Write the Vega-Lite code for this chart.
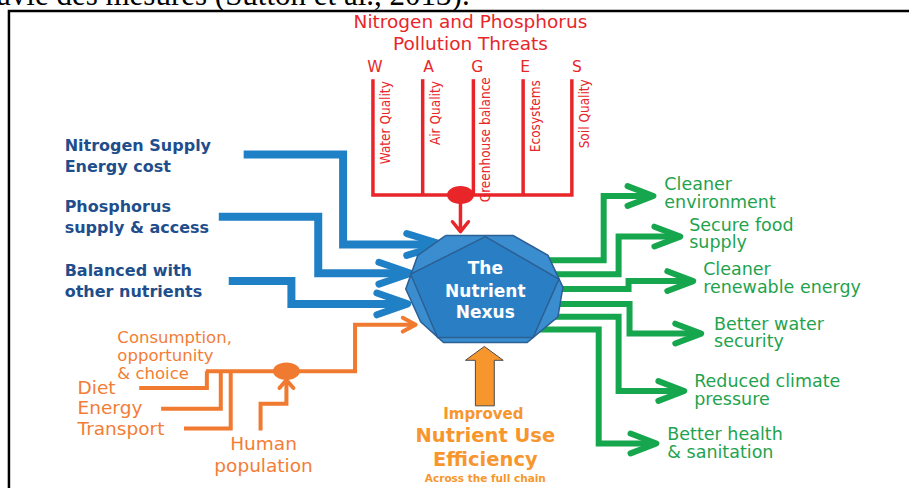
{
"$schema": "https://vega.github.io/schema/vega-lite/v6.json",
"width": 914, "height": 493, "padding": 0,
"autosize": {"type": "fit", "contains": "padding"},
"background": "white",
"config": {"view": {"stroke": null}},
"datasets": {
"paths": [
{"p":"f1","g":"frame","o":1,"x":9,"y":493},{"p":"f1","g":"frame","o":2,"x":9,"y":11},{"p":"f1","g":"frame","o":3,"x":914,"y":11},
{"p":"r1","g":"red","o":1,"x":375,"y":80},{"p":"r1","g":"red","o":2,"x":375,"y":197},{"p":"r1","g":"red","o":3,"x":575,"y":197},{"p":"r1","g":"red","o":4,"x":575,"y":80},
{"p":"r2","g":"red","o":1,"x":425,"y":80},{"p":"r2","g":"red","o":2,"x":425,"y":197},
{"p":"r3","g":"red","o":1,"x":476,"y":80},{"p":"r3","g":"red","o":2,"x":476,"y":197},
{"p":"r4","g":"red","o":1,"x":526,"y":80},{"p":"r4","g":"red","o":2,"x":526,"y":197},
{"p":"r5","g":"red","o":1,"x":463,"y":197},{"p":"r5","g":"red","o":2,"x":463,"y":231},
{"p":"rh","g":"redhead","o":1,"x":455,"y":224},{"p":"rh","g":"redhead","o":2,"x":463,"y":234},{"p":"rh","g":"redhead","o":3,"x":471,"y":224},
{"p":"b1","g":"blue","o":1,"x":245,"y":156},{"p":"b1","g":"blue","o":2,"x":345,"y":156},{"p":"b1","g":"blue","o":3,"x":345,"y":247},{"p":"b1","g":"blue","o":4,"x":441,"y":247},
{"p":"b2","g":"blue","o":1,"x":220,"y":219},{"p":"b2","g":"blue","o":2,"x":320,"y":219},{"p":"b2","g":"blue","o":3,"x":320,"y":276},{"p":"b2","g":"blue","o":4,"x":409,"y":276},
{"p":"b3","g":"blue","o":1,"x":230,"y":284},{"p":"b3","g":"blue","o":2,"x":293,"y":284},{"p":"b3","g":"blue","o":3,"x":293,"y":307},{"p":"b3","g":"blue","o":4,"x":406,"y":307},
{"p":"bh1","g":"bluehead","o":1,"x":409,"y":236},{"p":"bh1","g":"bluehead","o":2,"x":445,"y":247},{"p":"bh1","g":"bluehead","o":3,"x":409,"y":258},
{"p":"bh2","g":"bluehead","o":1,"x":381,"y":265},{"p":"bh2","g":"bluehead","o":2,"x":413,"y":276},{"p":"bh2","g":"bluehead","o":3,"x":381,"y":287},
{"p":"bh3","g":"bluehead","o":1,"x":379,"y":296},{"p":"bh3","g":"bluehead","o":2,"x":410,"y":307},{"p":"bh3","g":"bluehead","o":3,"x":379,"y":318},
{"p":"g1","g":"green","o":1,"x":540,"y":263},{"p":"g1","g":"green","o":2,"x":607,"y":263},{"p":"g1","g":"green","o":3,"x":607,"y":198},{"p":"g1","g":"green","o":4,"x":654,"y":198},
{"p":"g2","g":"green","o":1,"x":540,"y":277},{"p":"g2","g":"green","o":2,"x":622,"y":277},{"p":"g2","g":"green","o":3,"x":622,"y":239},{"p":"g2","g":"green","o":4,"x":681,"y":239},
{"p":"g3","g":"green","o":1,"x":540,"y":292},{"p":"g3","g":"green","o":2,"x":632,"y":292},{"p":"g3","g":"green","o":3,"x":632,"y":284},{"p":"g3","g":"green","o":4,"x":694,"y":284},
{"p":"g4","g":"green","o":1,"x":540,"y":307},{"p":"g4","g":"green","o":2,"x":633,"y":307},{"p":"g4","g":"green","o":3,"x":633,"y":337},{"p":"g4","g":"green","o":4,"x":702,"y":337},
{"p":"g5","g":"green","o":1,"x":540,"y":320},{"p":"g5","g":"green","o":2,"x":622,"y":320},{"p":"g5","g":"green","o":3,"x":622,"y":395},{"p":"g5","g":"green","o":4,"x":685,"y":395},
{"p":"g6","g":"green","o":1,"x":540,"y":333},{"p":"g6","g":"green","o":2,"x":602,"y":333},{"p":"g6","g":"green","o":3,"x":602,"y":448},{"p":"g6","g":"green","o":4,"x":657,"y":448},
{"p":"gh1","g":"greenhead","o":1,"x":631,"y":188},{"p":"gh1","g":"greenhead","o":2,"x":657,"y":198},{"p":"gh1","g":"greenhead","o":3,"x":631,"y":208},
{"p":"gh2","g":"greenhead","o":1,"x":658,"y":229},{"p":"gh2","g":"greenhead","o":2,"x":684,"y":239},{"p":"gh2","g":"greenhead","o":3,"x":658,"y":249},
{"p":"gh3","g":"greenhead","o":1,"x":671,"y":274},{"p":"gh3","g":"greenhead","o":2,"x":697,"y":284},{"p":"gh3","g":"greenhead","o":3,"x":671,"y":294},
{"p":"gh4","g":"greenhead","o":1,"x":679,"y":327},{"p":"gh4","g":"greenhead","o":2,"x":705,"y":337},{"p":"gh4","g":"greenhead","o":3,"x":679,"y":347},
{"p":"gh5","g":"greenhead","o":1,"x":662,"y":385},{"p":"gh5","g":"greenhead","o":2,"x":688,"y":395},{"p":"gh5","g":"greenhead","o":3,"x":662,"y":405},
{"p":"gh6","g":"greenhead","o":1,"x":634,"y":438},{"p":"gh6","g":"greenhead","o":2,"x":660,"y":448},{"p":"gh6","g":"greenhead","o":3,"x":634,"y":458},
{"p":"o1","g":"orange","o":1,"x":207,"y":375},{"p":"o1","g":"orange","o":2,"x":357,"y":375},{"p":"o1","g":"orange","o":3,"x":357,"y":328},{"p":"o1","g":"orange","o":4,"x":416,"y":328},
{"p":"o2","g":"orange","o":1,"x":140,"y":392},{"p":"o2","g":"orange","o":2,"x":208,"y":392},{"p":"o2","g":"orange","o":3,"x":208,"y":375},
{"p":"o3","g":"orange","o":1,"x":162,"y":413},{"p":"o3","g":"orange","o":2,"x":222,"y":413},{"p":"o3","g":"orange","o":3,"x":222,"y":375},
{"p":"o4","g":"orange","o":1,"x":185,"y":433},{"p":"o4","g":"orange","o":2,"x":232,"y":433},{"p":"o4","g":"orange","o":3,"x":232,"y":375},
{"p":"o5","g":"orange","o":1,"x":262,"y":435},{"p":"o5","g":"orange","o":2,"x":262,"y":408},{"p":"o5","g":"orange","o":3,"x":288,"y":408},{"p":"o5","g":"orange","o":4,"x":288,"y":386},
{"p":"oh1","g":"orangehead","o":1,"x":405,"y":321},{"p":"oh1","g":"orangehead","o":2,"x":418,"y":328},{"p":"oh1","g":"orangehead","o":3,"x":405,"y":335},
{"p":"oh2","g":"orangehead","o":1,"x":281,"y":392},{"p":"oh2","g":"orangehead","o":2,"x":288,"y":384},{"p":"oh2","g":"orangehead","o":3,"x":295,"y":392}
],
"polys": [
{"p":"dec","o":1,"x":448,"y":238},{"p":"dec","o":2,"x":516,"y":238},{"p":"dec","o":3,"x":551,"y":258},{"p":"dec","o":4,"x":566,"y":290},{"p":"dec","o":5,"x":561,"y":320},{"p":"dec","o":6,"x":530,"y":346},{"p":"dec","o":7,"x":446,"y":346},{"p":"dec","o":8,"x":423,"y":325},{"p":"dec","o":9,"x":408,"y":292},{"p":"dec","o":10,"x":420,"y":258},{"p":"dec","o":11,"x":448,"y":238},
{"p":"pen","o":1,"x":488,"y":239},{"p":"pen","o":2,"x":562,"y":282},{"p":"pen","o":3,"x":536,"y":341},{"p":"pen","o":4,"x":440,"y":341},{"p":"pen","o":5,"x":413,"y":277},{"p":"pen","o":6,"x":488,"y":239},
{"p":"blk","o":1,"x":487,"y":350},{"p":"blk","o":2,"x":506,"y":364},{"p":"blk","o":3,"x":497,"y":364},{"p":"blk","o":4,"x":497,"y":410},{"p":"blk","o":5,"x":478,"y":410},{"p":"blk","o":6,"x":478,"y":364},{"p":"blk","o":7,"x":468,"y":364},{"p":"blk","o":8,"x":487,"y":350}
],
"dots": [
{"g":"red","x":463,"y":197},
{"g":"orange","x":288,"y":375}
],
"texts": [
{"s":"cut","x":-3,"y":5,"t":"avie des mesures (Sutton et al., 2013)."},
{"s":"title","x":473,"y":28,"t":"Nitrogen and Phosphorus"},
{"s":"title","x":473,"y":51,"t":"Pollution Threats"},
{"s":"wages","x":377,"y":73,"t":"W"},
{"s":"wages","x":431,"y":73,"t":"A"},
{"s":"wages","x":480,"y":73,"t":"G"},
{"s":"wages","x":528,"y":73,"t":"E"},
{"s":"wages","x":580,"y":73,"t":"S"},
{"s":"rot","x":381,"y":82,"t":"Water Quality"},
{"s":"rot","x":431,"y":82,"t":"Air Quality"},
{"s":"rot","x":482,"y":78,"t":"Greenhouse balance"},
{"s":"rot","x":532,"y":81,"t":"Ecosystems"},
{"s":"rot","x":581,"y":80,"t":"Soil Quality"},
{"s":"blue","x":65,"y":153,"t":"Nitrogen Supply"},
{"s":"blue","x":65,"y":174,"t":"Energy cost"},
{"s":"blue","x":65,"y":214,"t":"Phosphorus"},
{"s":"blue","x":65,"y":235,"t":"supply & access"},
{"s":"blue","x":65,"y":279,"t":"Balanced with"},
{"s":"blue","x":65,"y":300,"t":"other nutrients"},
{"s":"green","x":668,"y":192,"t":"Cleaner"},
{"s":"green","x":668,"y":210,"t":"environment"},
{"s":"green","x":693,"y":233,"t":"Secure food"},
{"s":"green","x":693,"y":251,"t":"supply"},
{"s":"green","x":707,"y":278,"t":"Cleaner"},
{"s":"green","x":707,"y":296,"t":"renewable energy"},
{"s":"green","x":718,"y":333,"t":"Better water"},
{"s":"green","x":718,"y":351,"t":"security"},
{"s":"green","x":698,"y":391,"t":"Reduced climate"},
{"s":"green","x":698,"y":409,"t":"pressure"},
{"s":"green","x":671,"y":445,"t":"Better health"},
{"s":"green","x":671,"y":463,"t":"& sanitation"},
{"s":"orS","x":118,"y":347,"t":"Consumption,"},
{"s":"orS","x":118,"y":365,"t":"opportunity"},
{"s":"orS","x":118,"y":383,"t":"& choice"},
{"s":"orL","x":78,"y":398,"t":"Diet"},
{"s":"orL","x":78,"y":418,"t":"Energy"},
{"s":"orL","x":78,"y":439,"t":"Transport"},
{"s":"orC","x":265,"y":455,"t":"Human"},
{"s":"orC","x":265,"y":477,"t":"population"},
{"s":"nexus","x":488,"y":277,"t":"The"},
{"s":"nexus","x":488,"y":300,"t":"Nutrient"},
{"s":"nexus","x":488,"y":321,"t":"Nexus"},
{"s":"nue1","x":486,"y":423,"t":"Improved"},
{"s":"nue2","x":488,"y":447,"t":"Nutrient Use"},
{"s":"nue2","x":488,"y":471,"t":"Efficiency"},
{"s":"nue3","x":488,"y":487,"t":"Across the full chain"}
]
},
"encoding": {
"x": {"field": "x", "type": "quantitative", "scale": {"domain": [0, 914], "nice": false, "zero": false}, "axis": null},
"y": {"field": "y", "type": "quantitative", "scale": {"domain": [0, 493], "nice": false, "zero": false, "reverse": true}, "axis": null}
},
"layer": [
{"data": {"name": "texts"}, "transform": [{"filter": "datum.s === 'cut'"}], "mark": {"type": "text", "clip": true, "font": "Liberation Serif", "fontSize": 31, "color": "#000000", "align": "left", "baseline": "alphabetic"}, "encoding": {"text": {"field": "t"}}},
{"data": {"name": "paths"}, "transform": [{"filter": "datum.g === 'frame'"}], "mark": {"type": "line", "stroke": "#000000", "strokeWidth": 2.5, "strokeJoin": "miter"}, "encoding": {"detail": {"field": "p"}, "order": {"field": "o", "type": "quantitative"}}},
{"data": {"name": "paths"}, "transform": [{"filter": "datum.g === 'red'"}], "mark": {"type": "line", "stroke": "#e8262a", "strokeWidth": 3.5, "strokeJoin": "miter", "strokeCap": "butt"}, "encoding": {"detail": {"field": "p"}, "order": {"field": "o", "type": "quantitative"}}},
{"data": {"name": "paths"}, "transform": [{"filter": "datum.g === 'redhead'"}], "mark": {"type": "line", "stroke": "#e8262a", "strokeWidth": 3.5, "strokeJoin": "round", "strokeCap": "round"}, "encoding": {"detail": {"field": "p"}, "order": {"field": "o", "type": "quantitative"}}},
{"data": {"name": "dots"}, "transform": [{"filter": "datum.g === 'red'"}], "mark": {"type": "point", "filled": true, "opacity": 1, "color": "#e8262a", "size": 729, "shape": "M -1 0 A 1 0.67 0 1 1 1 0 A 1 0.67 0 1 1 -1 0 Z"}},
{"data": {"name": "paths"}, "transform": [{"filter": "datum.g === 'blue'"}], "mark": {"type": "line", "stroke": "#2080c6", "strokeWidth": 8, "strokeJoin": "miter", "strokeCap": "butt"}, "encoding": {"detail": {"field": "p"}, "order": {"field": "o", "type": "quantitative"}}},
{"data": {"name": "paths"}, "transform": [{"filter": "datum.g === 'bluehead'"}], "mark": {"type": "line", "stroke": "#2080c6", "strokeWidth": 7, "strokeJoin": "round", "strokeCap": "round"}, "encoding": {"detail": {"field": "p"}, "order": {"field": "o", "type": "quantitative"}}},
{"data": {"name": "paths"}, "transform": [{"filter": "datum.g === 'green'"}], "mark": {"type": "line", "stroke": "#16a64d", "strokeWidth": 6, "strokeJoin": "miter", "strokeCap": "butt"}, "encoding": {"detail": {"field": "p"}, "order": {"field": "o", "type": "quantitative"}}},
{"data": {"name": "paths"}, "transform": [{"filter": "datum.g === 'greenhead'"}], "mark": {"type": "line", "stroke": "#16a64d", "strokeWidth": 6, "strokeJoin": "round", "strokeCap": "round"}, "encoding": {"detail": {"field": "p"}, "order": {"field": "o", "type": "quantitative"}}},
{"data": {"name": "paths"}, "transform": [{"filter": "datum.g === 'orange'"}], "mark": {"type": "line", "stroke": "#f07a30", "strokeWidth": 4, "strokeJoin": "miter", "strokeCap": "butt"}, "encoding": {"detail": {"field": "p"}, "order": {"field": "o", "type": "quantitative"}}},
{"data": {"name": "paths"}, "transform": [{"filter": "datum.g === 'orangehead'"}], "mark": {"type": "line", "stroke": "#f07a30", "strokeWidth": 4, "strokeJoin": "round", "strokeCap": "round"}, "encoding": {"detail": {"field": "p"}, "order": {"field": "o", "type": "quantitative"}}},
{"data": {"name": "dots"}, "transform": [{"filter": "datum.g === 'orange'"}], "mark": {"type": "point", "filled": true, "opacity": 1, "color": "#f07a30", "size": 729, "shape": "M -1 0 A 1 0.64 0 1 1 1 0 A 1 0.64 0 1 1 -1 0 Z"}},
{"data": {"name": "polys"}, "transform": [{"filter": "datum.p === 'dec'"}], "mark": {"type": "line", "fill": "#3a8dcf", "stroke": "#2c5f93", "strokeWidth": 1.5, "strokeJoin": "miter"}, "encoding": {"order": {"field": "o", "type": "quantitative"}}},
{"data": {"name": "polys"}, "transform": [{"filter": "datum.p === 'pen'"}], "mark": {"type": "line", "fill": "#2a7fc4", "stroke": "#2c5f93", "strokeWidth": 1.5, "strokeJoin": "miter"}, "encoding": {"order": {"field": "o", "type": "quantitative"}}},
{"data": {"name": "polys"}, "transform": [{"filter": "datum.p === 'blk'"}], "mark": {"type": "line", "fill": "#f7962d", "stroke": "#4a4a4a", "strokeWidth": 1, "strokeJoin": "miter"}, "encoding": {"order": {"field": "o", "type": "quantitative"}}},
{"data": {"name": "texts"}, "transform": [{"filter": "datum.s === 'title'"}], "mark": {"type": "text", "font": "DejaVu Sans", "fontSize": 18.5, "color": "#e8262a", "align": "center", "baseline": "alphabetic"}, "encoding": {"text": {"field": "t"}}},
{"data": {"name": "texts"}, "transform": [{"filter": "datum.s === 'wages'"}], "mark": {"type": "text", "font": "DejaVu Sans", "fontSize": 15.5, "color": "#e8262a", "align": "center", "baseline": "alphabetic"}, "encoding": {"text": {"field": "t"}}},
{"data": {"name": "texts"}, "transform": [{"filter": "datum.s === 'rot'"}], "mark": {"type": "text", "font": "Liberation Sans Narrow, DejaVu Sans Condensed, Liberation Sans", "fontSize": 13.5, "color": "#e8262a", "align": "right", "baseline": "top", "angle": 270}, "encoding": {"text": {"field": "t"}}},
{"data": {"name": "texts"}, "transform": [{"filter": "datum.s === 'blue'"}], "mark": {"type": "text", "font": "DejaVu Sans", "fontWeight": "bold", "fontSize": 16, "color": "#1f4e8c", "align": "left", "baseline": "alphabetic"}, "encoding": {"text": {"field": "t"}}},
{"data": {"name": "texts"}, "transform": [{"filter": "datum.s === 'green'"}], "mark": {"type": "text", "font": "DejaVu Sans", "fontSize": 17.5, "color": "#1fa34e", "align": "left", "baseline": "alphabetic"}, "encoding": {"text": {"field": "t"}}},
{"data": {"name": "texts"}, "transform": [{"filter": "datum.s === 'orS'"}], "mark": {"type": "text", "font": "DejaVu Sans", "fontSize": 16.5, "color": "#f37d35", "align": "left", "baseline": "alphabetic"}, "encoding": {"text": {"field": "t"}}},
{"data": {"name": "texts"}, "transform": [{"filter": "datum.s === 'orL'"}], "mark": {"type": "text", "font": "DejaVu Sans", "fontSize": 18.5, "color": "#f37d35", "align": "left", "baseline": "alphabetic"}, "encoding": {"text": {"field": "t"}}},
{"data": {"name": "texts"}, "transform": [{"filter": "datum.s === 'orC'"}], "mark": {"type": "text", "font": "DejaVu Sans", "fontSize": 18.5, "color": "#f37d35", "align": "center", "baseline": "alphabetic"}, "encoding": {"text": {"field": "t"}}},
{"data": {"name": "texts"}, "transform": [{"filter": "datum.s === 'nexus'"}], "mark": {"type": "text", "font": "DejaVu Sans", "fontWeight": "bold", "fontSize": 17, "color": "#ffffff", "align": "center", "baseline": "alphabetic"}, "encoding": {"text": {"field": "t"}}},
{"data": {"name": "texts"}, "transform": [{"filter": "datum.s === 'nue1'"}], "mark": {"type": "text", "font": "DejaVu Sans", "fontWeight": "bold", "fontSize": 15, "color": "#f7962d", "align": "center", "baseline": "alphabetic"}, "encoding": {"text": {"field": "t"}}},
{"data": {"name": "texts"}, "transform": [{"filter": "datum.s === 'nue2'"}], "mark": {"type": "text", "font": "DejaVu Sans", "fontWeight": "bold", "fontSize": 19.5, "color": "#f7962d", "align": "center", "baseline": "alphabetic"}, "encoding": {"text": {"field": "t"}}},
{"data": {"name": "texts"}, "transform": [{"filter": "datum.s === 'nue3'"}], "mark": {"type": "text", "font": "DejaVu Sans", "fontWeight": "bold", "fontSize": 10.5, "color": "#f7962d", "align": "center", "baseline": "alphabetic"}, "encoding": {"text": {"field": "t"}}}
]
}
